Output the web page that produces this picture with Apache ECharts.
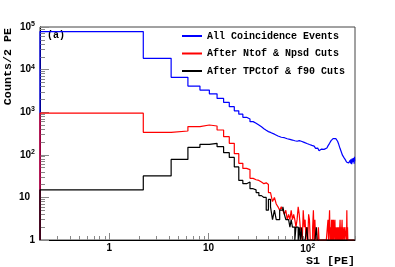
<!DOCTYPE html>
<html><head><meta charset="utf-8">
<script src="https://cdn.jsdelivr.net/npm/echarts@6/dist/echarts.min.js"></script>
<style>html,body{margin:0;padding:0;background:#fff}#c{width:395px;height:267px}</style>
</head><body><div id="c"></div>
<script>
// Histogram bins: 2 PE wide, first bin starts at 0.2 PE
const binStart = 0.2;
const binWidth = 2;
const seriesNames = ['All Coincidence Events', 'After Ntof & Npsd Cuts', 'After TPCtof & f90 Cuts'];
const seriesColors = ['#0000ff', '#ff0000', '#000000'];

const allEvents = [
  78000, 18400, 6600, 4100, 3300, 2700, 2100, 1700, 1350, 1080,
  900, 760, 690, 600, 550, 500, 455, 410, 375, 350,
  335, 318, 305, 290, 276, 265, 258, 250, 252, 242,
  238, 240, 230, 228, 222, 226, 214, 215, 208, 210,
  215, 210, 208, 205, 200, 196, 192, 186, 184, 178,
  176, 174, 170, 172, 166, 168, 164, 160, 156, 148,
  142, 150, 138, 144, 130, 124, 132, 120, 128, 136,
  126, 132, 125, 134, 140, 136, 142, 145, 150, 156,
  162, 168, 176, 186, 195, 204, 215, 224, 230, 236,
  240, 244, 246, 242, 245, 240, 238, 234, 226, 218,
  208, 196, 185, 172, 160, 150, 140, 132, 124, 118,
  110, 104, 98, 92, 90, 88, 86, 84, 82, 80,
  76, 74, 71, 68, 66, 64, 66, 62, 64, 60,
  66, 58, 70, 62, 74, 64, 78, 62, 70, 60,
  82, 66, 72, 60, 84, 68, 76, 62, 90, 70
];
const afterNtof = [
  950, 337, 362, 459, 500, 474, 382, 267, 186, 106,
  63, 48, 45, 28, 26, 25, 23, 21, 22, 20,
  13, 12, 8, 10, 7, 6, 5, 6, 5, 4,
  5, 3, 4, 3, 5, 3, 4, 3, 2, 3,
  6, 4, 2, 2, 1, 5, 2, 3, 1, 2,
  0, 4, 3, 1, 0, 0, 2, 5, 0, 3,
  0, 0, 1, 0, 2, 0, 0, 0, 0, 0,
  0, 0, 0, 0, 0, 0, 0, 0, 1, 0,
  3, 0, 0, 5, 0, 2, 0, 3, 0, 3,
  0, 3, 0, 2, 3, 0, 2, 0, 1, 2,
  0, 2, 0, 2, 0, 0, 3, 0, 2, 0,
  1, 3, 0, 2, 0, 1, 0, 2, 0, 0,
  1, 0, 2, 0, 5, 0, 2, 0, 0, 0,
  0, 0, 0, 0, 0, 0, 0, 0, 0, 0,
  0, 0, 0, 0, 0, 0, 0, 0, 0, 0
];
const afterTPCtof = [
  15, 32, 78, 150, 176, 186, 155, 112, 87, 52,
  25, 21, 23, 16, 15, 13, 11, 10, 10, 5,
  9, 6, 3, 5, 3, 3, 5, 5, 6, 4,
  3, 3, 3, 2, 3, 2, 2, 1, 2, 2,
  0, 2, 0, 2, 0, 0, 1, 0, 0, 2,
  0, 0, 0, 0, 0, 0, 0, 0, 0, 0,
  0, 2, 0, 0, 0, 0, 0, 0, 0, 0,
  0, 0, 0, 0, 0, 0, 0, 0, 0, 0,
  0, 0, 0, 0, 0, 0, 0, 0, 0, 0,
  0, 0, 0, 0, 0, 0, 0, 0, 0, 0,
  0, 0, 0, 0, 0, 0, 0, 0, 0, 0,
  0, 0, 0, 0, 0, 0, 0, 0, 0, 0,
  0, 0, 0, 0, 0, 0, 0, 0, 0, 0,
  0, 0, 0, 0, 0, 0, 0, 0, 0, 0,
  0, 0, 0, 0, 0, 0, 0, 0, 0, 0
];

const xMajorTicks = [1, 10, 100];
const xMinorTicks = [0.3, 0.4, 0.5, 0.6, 0.7, 0.8, 0.9, 2, 3, 4, 5, 6, 7, 8, 9,
  20, 30, 40, 50, 60, 70, 80, 90, 200, 300];
const yMajorTicks = [1, 10, 100, 1000, 10000, 100000];
const yMinorTicks = [2, 3, 4, 5, 6, 7, 8, 9, 20, 30, 40, 50, 60, 70, 80, 90,
  200, 300, 400, 500, 600, 700, 800, 900, 2000, 3000, 4000, 5000, 6000, 7000, 8000, 9000,
  20000, 30000, 40000, 50000, 60000, 70000, 80000, 90000];

const xMin = 0.2, xMax = 300, yMin = 1, yMax = 100000;

function stepPoints(counts) {
  const pts = [[binStart, yMin]];
  counts.forEach((c, i) => pts.push([binStart + i * binWidth, Math.max(c, yMin)]));
  pts.push([binStart + counts.length * binWidth, Math.max(counts[counts.length - 1], yMin)]);
  return pts;
}

function powLabel(v) {
  const p = Math.round(Math.log10(v));
  if (p === 0) return '{b|1}';
  if (p === 1) return '{b|10}';
  return '{b|10}{s|' + p + '}';
}
function powLabelY(v) {
  const p = Math.round(Math.log10(v));
  if (p === 0) return '{b|1}';
  if (p === 1) return '{b|10}{g|}';
  return '{b|10}{s|' + p + '}';
}
const rich = {
  b: { fontFamily: 'Liberation Sans', fontWeight: 'bold', fontSize: 10, color: '#000' },
  s: { fontFamily: 'Liberation Sans', fontWeight: 'bold', fontSize: 7, color: '#000', verticalAlign: 'top', padding: [0, 0, 6, 0] },
  g: { width: 5 }
};
const tickColor = '#888';
const monoBold = { fontFamily: 'Liberation Mono', fontWeight: 'bold', color: '#000' };

const chart = echarts.init(document.getElementById('c'), null, { renderer: 'canvas' });
chart.setOption({
  animation: false,
  backgroundColor: '#fff',
  grid: { left: 40, right: 40, top: 27, bottom: 27, show: true, borderColor: '#444', borderWidth: 1, backgroundColor: 'transparent' },
  xAxis: [
    { type: 'log', min: xMin, max: xMax, position: 'bottom',
      axisLine: { show: true, lineStyle: { color: '#000', width: 1 } },
      axisTick: { show: true, inside: true, length: 7, customValues: xMajorTicks, lineStyle: { color: tickColor } },
      axisLabel: { show: true, customValues: xMajorTicks, formatter: powLabel, rich: rich, margin: 3 },
      splitLine: { show: false }, minorTick: { show: false } },
    { type: 'log', min: xMin, max: xMax, position: 'bottom',
      axisLine: { show: false },
      axisTick: { show: true, inside: true, length: 4, customValues: xMinorTicks, lineStyle: { color: tickColor } },
      axisLabel: { show: false }, splitLine: { show: false } }
  ],
  yAxis: [
    { type: 'log', min: yMin, max: yMax, position: 'left',
      axisLine: { show: true, lineStyle: { color: '#000', width: 1 } },
      axisTick: { show: true, inside: true, length: 9, customValues: yMajorTicks, lineStyle: { color: tickColor } },
      axisLabel: { show: true, customValues: yMajorTicks, formatter: powLabelY, rich: rich, margin: 5 },
      splitLine: { show: false } },
    { type: 'log', min: yMin, max: yMax, position: 'left',
      axisLine: { show: false },
      axisTick: { show: true, inside: true, length: 5, customValues: yMinorTicks, lineStyle: { color: tickColor } },
      axisLabel: { show: false }, splitLine: { show: false } }
  ],
  legend: {
    orient: 'vertical', left: 182, top: 30, padding: 0,
    itemWidth: 20, itemHeight: 2, itemGap: 5.5, icon: 'rect', selectedMode: false,
    textStyle: Object.assign({ fontSize: 10, lineHeight: 12 }, monoBold),
    data: seriesNames
  },
  series: [allEvents, afterNtof, afterTPCtof].map((counts, i) => ({
    name: seriesNames[i], type: 'line', step: 'end', xAxisIndex: 0, yAxisIndex: 0,
    data: stepPoints(counts), showSymbol: false, symbol: 'none', clip: true,
    lineStyle: { color: seriesColors[i], width: 1.2 }, itemStyle: { color: seriesColors[i] },
    z: 2 + i
  })),
  graphic: [
    { type: 'text', x: 8, y: 28, rotation: Math.PI / 2,
      style: Object.assign({ text: 'Counts/2 PE', fontSize: 11.7, align: 'right', verticalAlign: 'middle', fill: '#000' }, { fontFamily: 'Liberation Mono', fontWeight: 'bold' }) },
    { type: 'text', x: 355, y: 261,
      style: { text: 'S1 [PE]', fontSize: 11.7, align: 'right', verticalAlign: 'middle', fill: '#000', fontFamily: 'Liberation Mono', fontWeight: 'bold' } },
    { type: 'text', x: 47, y: 35.5,
      style: { text: '(a)', fontSize: 10, align: 'left', verticalAlign: 'middle', fill: '#000', fontFamily: 'Liberation Mono', fontWeight: 'bold' } }
  ]
});
</script>
</body></html>
